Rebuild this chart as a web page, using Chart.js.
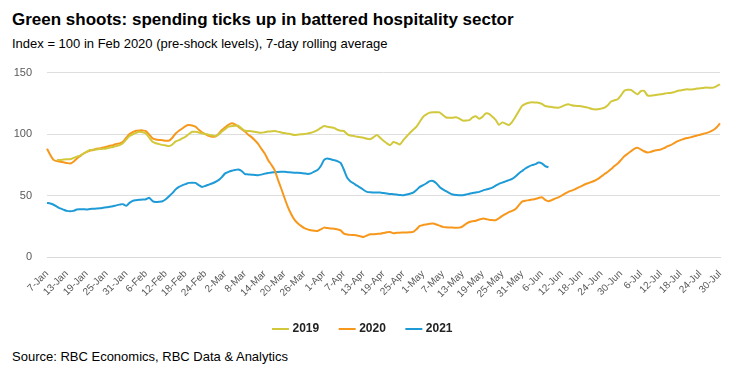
<!DOCTYPE html>
<html>
<head>
<meta charset="utf-8">
<script src="https://cdn.jsdelivr.net/npm/chart.js@4"></script>
<style>
  body { margin: 0; background: #fff; font-family: "Liberation Sans", Arial, sans-serif; }
  #wrap { position: relative; width: 750px; height: 372px; overflow: hidden; }
  .title { position: absolute; left: 12px; top: 10px; font-size: 17px; font-weight: bold; color: #000; }
  .sub { position: absolute; left: 12px; top: 36px; font-size: 13px; color: #000; }
  .src { position: absolute; left: 12px; top: 349px; font-size: 13px; color: #000; }
  #box { position: absolute; left: 0; top: 51px; width: 750px; height: 294px; }
</style>
</head>
<body>
<div id="wrap">
  <div class="title">Green shoots: spending ticks up in battered hospitality sector</div>
  <div class="sub">Index = 100 in Feb 2020 (pre-shock levels), 7-day rolling average</div>
  <div id="box"><canvas id="chart"></canvas></div>
  <div class="src">Source: RBC Economics, RBC Data &amp; Analytics</div>
</div>
<script>
// dias 7-Jan .. 30-Jul
const meses = ['Jan', 'Feb', 'Mar', 'Apr', 'May', 'Jun', 'Jul'];
const labels = [];
for (let f = new Date(2021, 0, 7); f <= new Date(2021, 6, 30); f.setDate(f.getDate() + 1)) {
  labels.push(f.getDate() + '-' + meses[f.getMonth()]);
}

const yTicks = [0, 50, 100, 150];

const serie2019 = [
  null, null, null, 79, 79, 79.3, 79.5, 79.5, 80.5, 81.5,
  82.5, 84, 85.5, 87, 87.3, 87.5, 87.8, 88, 88.3, 89,
  89.5, 90.3, 91, 92.5, 95.5, 98.4, 99.8, 101, 101.9, 101.5,
  100.5, 97, 93.7, 92.5, 91.8, 91.2, 90.7, 90.2, 91.5, 94,
  95, 96.5, 97.8, 100, 101.9, 101.8, 101.3, 100.6, 100, 99.5,
  98.8, 98.4, 99.5, 102, 104, 106, 106.5, 106.8, 106.8, 104.5,
  102.7, 102.5, 102.3, 101.8, 101.3, 101, 101.5, 102, 102.2, 102.4,
  102, 101.3, 100.8, 100.3, 99.8, 99.2, 99.5, 99.8, 100, 100.5,
  101, 102, 103.3, 105, 106.5, 106, 105.6, 105, 103.5, 102.7,
  102.5, 100, 98.8, 98.4, 97.8, 97.5, 97, 96.2, 95.9, 97.5,
  99.2, 97, 94.5, 92.5, 91, 93.5, 92.7, 91.6, 95, 98,
  101, 103.5, 106, 110, 114, 116, 117.4, 117.8, 117.8, 117.7,
  115.5, 113.5, 113.3, 113.3, 113.6, 112.5, 111, 111, 111.4, 113.5,
  114.5, 112.5, 114, 116.8, 116.5, 114.1, 111.5, 107.5, 109.5, 108.5,
  107.3, 110, 114.1, 118.5, 123, 124.5, 125.5, 125.8, 125.6, 125.5,
  124.5, 122.8, 122.3, 122, 121.6, 121.5, 122.3, 123.5, 124.2, 123.5,
  123, 122.8, 122.6, 122, 121.5, 120.6, 120.1, 120.2, 120.7, 121.5,
  123.5, 126.5, 127.5, 128.3, 131.5, 135.3, 136, 135.9, 134, 132.3,
  135, 135.2, 131.5, 131.2, 131.5, 132, 132.3, 132.8, 133.3, 133.5,
  134, 135, 135.5, 136, 136.4, 136.2, 136.5, 137, 137.2, 137.5,
  137.8, 137.6, 137.8, 139, 140.5
];

const serie2020 = [
  88, 83, 79, 78, 77.5, 77, 76.5, 76, 77.5, 80,
  82, 84, 85.5, 86.5, 87, 88, 88.3, 89, 89.7, 90.5,
  91, 92, 92.4, 93.7, 97, 100, 101.5, 102.7, 103, 103,
  102.4, 99.5, 96.5, 95.6, 95.2, 95, 94.6, 94.6, 97, 100.5,
  102.7, 104.5, 106.5, 107.3, 107, 106, 103.5, 101.4, 100, 98.5,
  97.8, 98, 100, 103.3, 105.5, 107.5, 108.7, 107.8, 106, 104,
  102, 99.5, 97.5, 95, 92, 88, 84.2, 79, 75, 70.7,
  63, 55.7, 48, 40.8, 35, 30.4, 27.5, 25.3, 23.5, 22.5,
  21.7, 21.3, 21.2, 22.5, 23.9, 23.5, 23.2, 23, 22.5, 21.7,
  19, 18.3, 18, 17.8, 17.5, 16.8, 16.3, 17.5, 18.5, 18.6,
  18.8, 19, 19.5, 20.2, 20.4, 19.3, 19.8, 19.8, 20, 20,
  20.2, 20.4, 22.5, 25.3, 26, 26.5, 27, 27.2, 26.5, 25.5,
  24.5, 24.2, 24, 23.9, 23.8, 23.9, 25, 27, 28.5, 29.1,
  29.5, 30.5, 31.2, 31, 30.3, 30, 29.9, 31.5, 33.5, 35,
  36.5, 37.5, 39, 42, 45, 45.8, 46.2, 46.7, 47.2, 48,
  48.6, 46.5, 45.4, 46.3, 47.5, 48.5, 50, 51.5, 53, 54,
  55, 56.5, 57.6, 59, 60, 61, 62, 63.5, 65.5, 67.5,
  69.3, 71.5, 74, 76.1, 79, 82, 84, 86, 88, 88.9,
  87.5, 86, 85, 85.5, 86.5, 87, 87.5, 88.5, 90, 91,
  92.5, 94, 95.1, 96, 96.8, 97.3, 98, 98.8, 99.5, 100.3,
  101, 102, 103.3, 105.5, 108.7
];

const serie2021 = [
  44, 43.5, 42.5, 41, 39.5, 38.5, 37.5, 37.2, 37.5, 38.6,
  38.8, 38.9, 38.7, 39, 39.2, 39.4, 39.6, 40, 40.4, 40.8,
  41.3, 42, 42.6, 43, 41.6, 44, 45.7, 46.2, 46.5, 46.7,
  47, 48.1, 45.5, 44.8, 45, 45.4, 47, 49.5, 52, 55,
  57, 58.3, 59.3, 60.3, 60.5, 60.3, 58.5, 57, 57.8, 58.8,
  59.8, 61, 62.5, 65, 68, 69.3, 70.2, 70.8, 71.2, 70,
  67.4, 67.2, 67, 66.8, 66.6, 67, 67.8, 68.3, 68.8, 69,
  69.2, 69.3, 69.3, 69, 68.8, 68.6, 68.5, 68.3, 68, 67.6,
  68, 69.5, 70.7, 74, 79, 80.2, 79.5, 78.8, 78, 76.5,
  71, 64.5, 61.5, 59.8, 58, 56.5, 54.5, 53, 52.6, 52.5,
  52.4, 52.4, 52, 51.7, 51.3, 51.1, 50.8, 50.5, 50.3, 50.8,
  51.5, 52.3, 54.5, 57, 58.4, 60, 61.7, 61.8, 60, 57,
  55, 53.5, 52, 50.8, 50.4, 50.3, 50.3, 50.8, 51.5, 52,
  52.5, 53, 54, 54.8, 55.5, 56.5, 58, 59.5, 60.5, 61.5,
  62.5, 63.5, 65.5, 68, 70, 72, 73.5, 74.7, 75.5, 76.8,
  76.2, 74, 73
];

const linea = (label, data, color) => ({
  label: label,
  data: data,
  borderColor: color,
  backgroundColor: color,
  borderWidth: 2,
  pointRadius: 0,
  tension: 0.2,
  fill: false,
});

new Chart(document.getElementById('chart'), {
  type: 'line',
  data: {
    labels: labels,
    datasets: [
      linea('2019', serie2019, '#d2c83c'),
      linea('2020', serie2020, '#f7981d'),
      linea('2021', serie2021, '#1e9bd7'),
    ],
  },
  options: {
    responsive: true,
    maintainAspectRatio: false,
    animation: false,
    layout: { padding: { top: 3, left: 7, right: 30, bottom: 0 } },
    plugins: {
      tooltip: { enabled: false },
      legend: {
        position: 'bottom',
        labels: {
          usePointStyle: true,
          pointStyle: 'line',
          boxWidth: 15,
          padding: 22,
          color: '#222',
          font: { family: 'Liberation Sans', size: 12, weight: 'bold' },
        },
      },
    },
    scales: {
      x: {
        grid: { display: false },
        border: { color: '#d9d9d9' },
        afterFit: (s) => { s.height = 44; },
        ticks: {
          autoSkip: false,
          maxRotation: 45,
          minRotation: 45,
          color: '#595959',
          font: { family: 'Liberation Sans', size: 10 },
          callback: function (v, i) {
            return i % 6 === 0 ? labels[i] : null;
          },
        },
      },
      y: {
        min: yTicks[0],
        max: yTicks[yTicks.length - 1],
        afterFit: (s) => { s.width = 40; },
        afterBuildTicks: (s) => { s.ticks = yTicks.map((v) => ({ value: v })); },
        border: { display: false },
        grid: { color: '#dedede', drawTicks: false },
        ticks: {
          color: '#595959',
          padding: 15,
          font: { family: 'Liberation Sans', size: 11 },
        },
      },
    },
  },
});
</script>
</body>
</html>
